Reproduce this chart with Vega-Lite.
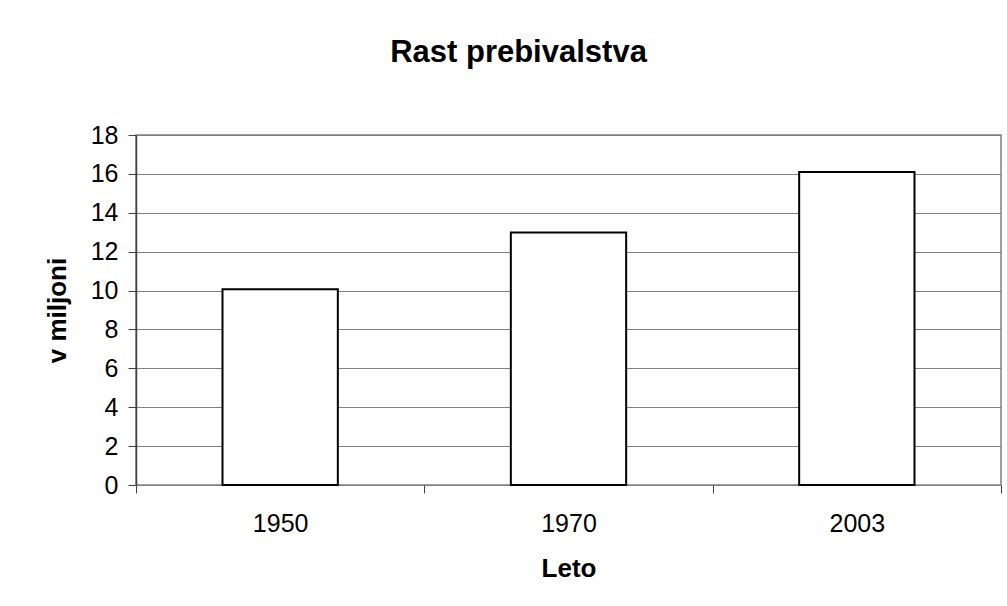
{
  "$schema": "https://vega.github.io/schema/vega-lite/v6.json",
  "width": 865,
  "height": 350,
  "autosize": "none",
  "padding": {"left": 136, "top": 135, "right": 6, "bottom": 121},
  "background": "white",
  "title": {
    "text": "Rast prebivalstva",
    "font": "Liberation Sans",
    "fontSize": 31,
    "fontWeight": "bold",
    "color": "black",
    "anchor": "middle",
    "frame": "group",
    "dx": -50,
    "offset": 54
  },
  "data": {
    "values": [
      {"leto": "1950", "v": 10.07},
      {"leto": "1970", "v": 12.98},
      {"leto": "2003", "v": 16.1}
    ]
  },
  "mark": {"type": "bar", "fill": "white", "stroke": "black", "strokeWidth": 2, "width": {"band": 0.4}},
  "encoding": {
    "x": {
      "field": "leto",
      "type": "nominal",
      "title": "Leto",
      "scale": {"paddingInner": 0, "paddingOuter": 0},
      "axis": {
        "labelAngle": 0,
        "labelFont": "Liberation Sans",
        "labelFontSize": 25,
        "labelColor": "black",
        "labelPadding": 18,
        "tickBand": "extent",
        "tickSize": 8,
        "tickColor": "#404040",
        "tickWidth": 1,
        "domain": false,
        "titleFont": "Liberation Sans",
        "titleFontSize": 26,
        "titleFontWeight": "bold",
        "titleColor": "black",
        "titlePadding": 19
      }
    },
    "y": {
      "field": "v",
      "type": "quantitative",
      "title": "v miljoni",
      "scale": {"domain": [0, 18]},
      "axis": {
        "values": [0, 2, 4, 6, 8, 10, 12, 14, 16, 18],
        "labelFont": "Liberation Sans",
        "labelFontSize": 25,
        "labelColor": "black",
        "labelPadding": 10,
        "tickSize": 8,
        "tickColor": "#404040",
        "domain": true,
        "domainColor": "#404040",
        "domainWidth": 1.5,
        "grid": true,
        "gridColor": "#808080",
        "gridWidth": 1.2,
        "gridOpacity": 1,
        "titleFont": "Liberation Sans",
        "titleFontSize": 26,
        "titleFontWeight": "bold",
        "titleColor": "black",
        "titlePadding": 20
      }
    }
  },
  "config": {
    "view": {"stroke": "#808080", "strokeWidth": 1.5}
  }
}
